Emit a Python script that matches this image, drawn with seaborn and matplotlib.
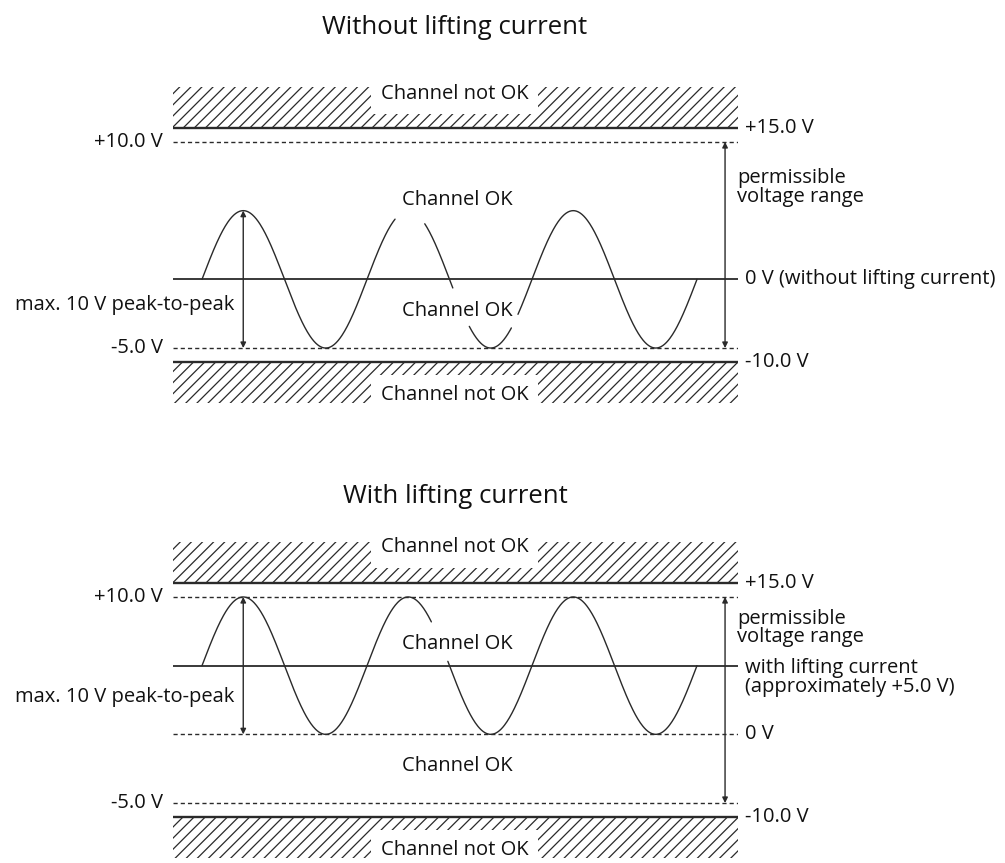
import numpy as np
import pandas as pd
import matplotlib
matplotlib.use("Agg")
import matplotlib.pyplot as plt
import seaborn as sns

sns.set_theme(style="white")
plt.rcParams['font.family'] = ['Open Sans', 'DejaVu Sans']
plt.rcParams['hatch.linewidth'] = 0.9

# --- diagram values (volts; x measured in signal periods) ---
titles = ["Without lifting current", "With lifting current"]
signal_centre = [0.0, 5.0]
amplitude = 5.0
dashed_levels = [[10.0, -5.0], [10.0, 0.0, -5.0]]
upper_limit_label = "+15.0 V"
lower_limit_label = "-10.0 V"
left_labels = [[(10.0, "+10.0 V"), (-5.0, "-5.0 V")],
               [(10.0, "+10.0 V"), (-5.0, "-5.0 V")]]
centre_labels = ["0 V (without lifting current)",
                 "with lifting current\n(approximately +5.0 V)"]
extra_right_labels = [[], [(0.0, "0 V")]]
# visible pieces of the signal, gaps leave room for the "Channel OK" labels
segments = [[(0.0, 1.17), (1.35, 1.52), (1.62, 1.875), (1.915, 3.0)],
            [(0.0, 1.39), (1.49, 3.0)]]
ok_label_y = [[5.75, -2.33], [6.6, -2.27]]
p2p_label_y = [-1.9, 2.75]
range_label_y = [6.7, 7.75]
not_ok_y = [[13.5, -8.4], [13.6, -8.45]]
band_upper = (11.0, 14.0)   # schematic hatched "not OK" bands
band_lower = (-9.0, -6.0)

line_col = "#2a2a2a"
text_col = "#111111"
fs = 14.5

fig = plt.figure(figsize=(10.05, 8.63), dpi=100)
W, H = 1005, 863
ax_top = fig.add_axes([173 / W, 1 - 403 / H, 565 / W, 316 / H])
ax_bot = fig.add_axes([173 / W, 1 - 858 / H, 565 / W, 316 / H])

xlim = (-29 / 165, 536 / 165)

for i, ax in enumerate([ax_top, ax_bot]):
    xs = np.array(xlim)

    # hatched bands + their solid borders
    for lo, hi in [band_upper, band_lower]:
        ax.fill_between(xs, lo, hi, facecolor="none", edgecolor=line_col,
                        hatch="///", linewidth=0, zorder=1)
    ax.axhline(band_upper[0], color=line_col, lw=1.7, zorder=2)
    ax.axhline(band_lower[1], color=line_col, lw=1.7, zorder=2)

    # dashed limits
    for lv in dashed_levels[i]:
        ax.axhline(lv, color=line_col, lw=1.0, ls=(0, (3, 2.2)), zorder=2)

    # centre line
    ax.axhline(signal_centre[i], color=line_col, lw=1.3, zorder=2)

    # signal
    for a, b in segments[i]:
        t = np.linspace(a, b, 300)
        df = pd.DataFrame({"t": t, "v": signal_centre[i] + amplitude * np.sin(2 * np.pi * t)})
        sns.lineplot(data=df, x="t", y="v", ax=ax, color=line_col, lw=1.0,
                     estimator=None, sort=False, zorder=3)

    ax.set_xlim(*xlim)
    ax.set_ylim(-9, 14)
    ax.set_axis_off()

    # arrows
    c = signal_centre[i]
    arrow = dict(arrowstyle="<|-|>", color=line_col, lw=1.0,
                 mutation_scale=8, shrinkA=0, shrinkB=0)
    ax.annotate("", xy=(0.25, c + amplitude), xytext=(0.25, c - amplitude),
                arrowprops=arrow)
    ax.annotate("", xy=(3.17, max(dashed_levels[i])),
                xytext=(3.17, min(dashed_levels[i])), arrowprops=arrow)

    # texts
    kw = dict(fontsize=fs, color=text_col, clip_on=False)
    for y, s in left_labels[i]:
        ax.text(-0.236, y, s, ha="right", va="center", **kw)
    ax.text(0.194, p2p_label_y[i], "max. 10 V peak-to-peak", ha="right",
            va="center", **kw)
    ax.text(3.29, band_upper[0], upper_limit_label, ha="left", va="center", **kw)
    ax.text(3.29, band_lower[1], lower_limit_label, ha="left", va="center", **kw)
    ax.text(3.245, range_label_y[i], "permissible\nvoltage range", ha="left",
            va="center", linespacing=0.9, **kw)
    if i == 0:
        ax.text(3.29, 0.0, centre_labels[i], ha="left", va="center", **kw)
    else:
        ax.text(3.29, 4.15, centre_labels[i], ha="left", va="center",
                linespacing=0.9, **kw)
    for y, s in extra_right_labels[i]:
        ax.text(3.29, y, s, ha="left", va="center", **kw)
    for y in ok_label_y[i]:
        ax.text(1.545, y, "Channel OK", ha="center", va="center", **kw)
    for y in not_ok_y[i]:
        ax.text(1.53, y, "Channel not OK", ha="center", va="center", zorder=4,
                bbox=dict(facecolor="white", edgecolor="none",
                          boxstyle="square,pad=0.5"), **kw)

fig.text(455 / W, 1 - 27 / H, titles[0], ha="center", va="center",
         fontsize=18.5, color=text_col)
fig.text(455 / W, 1 - 496 / H, titles[1], ha="center", va="center",
         fontsize=18.5, color=text_col)

fig.savefig("out.png", dpi=100)
